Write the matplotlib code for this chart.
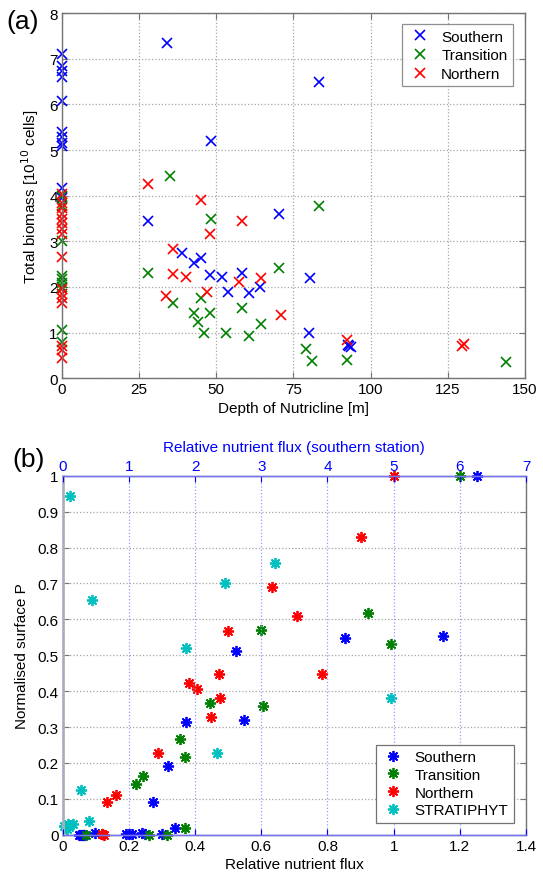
import matplotlib
matplotlib.use("Agg")
import matplotlib.pyplot as plt

plt.rcParams['font.family'] = ['Liberation Sans', 'DejaVu Sans']
plt.rcParams['font.size'] = 11

# ---------------- Panel (a) data ----------------
south_depth = [0, 0, 0, 0, 0, 0, 0, 0, 0, 0, 0,
               34.1, 48.3, 83.4, 28.0, 70.4, 39.0, 42.9, 45.0, 47.9, 51.9, 53.9,
               58.2, 60.5, 64.1, 80.3, 79.9, 92.5, 93.0, 93.5]
south_bio = [7.1, 6.85, 6.72, 6.6, 6.08, 5.4, 5.28, 5.15, 5.08, 4.17, 3.95,
             7.35, 5.19, 6.5, 3.45, 3.6, 2.74, 2.52, 2.63, 2.27, 2.21, 1.9,
             2.3, 1.86, 1.99, 2.19, 1.0, 0.74, 0.70, 0.68]

trans_depth = [0, 0, 0, 0, 0, 0, 0, 0, 0,
               35.0, 48.2, 28.0, 70.4, 36.1, 44.9, 42.9, 44.0, 47.9, 46.0, 53.0,
               60.5, 58.2, 64.4, 83.4, 78.9, 81.0, 92.3, 143.9]
trans_bio = [4.0, 3.78, 3.0, 2.25, 2.17, 2.08, 2.0, 1.05, 0.8,
             4.42, 3.5, 2.3, 2.41, 1.64, 1.75, 1.44, 1.24, 1.42, 1.0, 0.99,
             0.93, 1.53, 1.18, 3.78, 0.64, 0.37, 0.39, 0.35]

north_depth = [0, 0, 0, 0, 0, 0, 0, 0, 0, 0, 0, 0, 0, 0, 0, 0,
               28.0, 45.0, 58.3, 47.9, 36.1, 36.1, 40.2, 33.6, 46.9, 57.3, 64.4,
               70.9, 92.2, 129.5, 130.3]
north_bio = [4.03, 3.85, 3.72, 3.6, 3.5, 3.4, 3.28, 3.16, 2.65, 1.95, 1.85, 1.76, 1.65, 0.71, 0.62, 0.45,
             4.25, 3.91, 3.45, 3.15, 2.83, 2.28, 2.21, 1.81, 1.90, 2.10, 2.2,
             1.39, 0.84, 0.70, 0.76]

# ---------------- Panel (b) data ----------------
south_flux = [1.253, 0.853, 1.148, 0.524, 0.549, 0.372, 0.317, 0.274, 0.34,
              0.05, 0.055, 0.06, 0.065, 0.098, 0.19, 0.20, 0.21, 0.24, 0.25, 0.30]
south_P = [1.0, 0.547, 0.553, 0.511, 0.319, 0.315, 0.192, 0.09, 0.018,
           0, 0, 0, 0, 0.005, 0.003, 0.003, 0.003, 0.004, 0.003, 0.002]

trans_flux = [1.2, 0.924, 0.991, 0.60, 0.606, 0.444, 0.355, 0.37, 0.242, 0.222, 0.37,
              0.07, 0.12, 0.26, 0.315]
trans_P = [1.0, 0.617, 0.531, 0.571, 0.358, 0.366, 0.267, 0.217, 0.164, 0.141, 0.02,
           0, 0.002, 0, 0]

north_flux = [1.0, 0.90, 0.632, 0.708, 0.50, 0.785, 0.472, 0.382, 0.406, 0.474,
              0.448, 0.287, 0.162, 0.134, 0.12, 0.125]
north_P = [1.0, 0.83, 0.689, 0.608, 0.567, 0.449, 0.448, 0.422, 0.406, 0.381,
           0.329, 0.227, 0.111, 0.09, 0.002, 0]

strat_flux = [0.022, 0.088, 0.49, 0.64, 0.374, 0.991, 0.467, 0.055, 0.08,
              0.005, 0.01, 0.015, 0.02, 0.03, 0.012]
strat_P = [0.944, 0.654, 0.701, 0.758, 0.521, 0.381, 0.228, 0.125, 0.037,
           0.025, 0.02, 0.03, 0.022, 0.03, 0.015]

top_ticks = [0, 1, 2, 3, 4, 5, 6, 7]

C_S = (0, 0, 1)
C_T = (0, 0.5, 0)
C_N = (1, 0, 0)
C_C = (0, 0.75, 0.75)
SPINE = '0.45'
AST = (8, 2, 0)

fig = plt.figure(figsize=(5.43, 8.78), dpi=100)

# ---------------- Panel (a) ----------------
ax = fig.add_axes([0.114, 0.568, 0.853, 0.416])
kw = dict(linestyle='none', marker='x', markersize=6.5, markeredgewidth=1.2, clip_on=False)
ax.plot(south_depth, south_bio, color=C_S, label='Southern', **kw)
ax.plot(trans_depth, trans_bio, color=C_T, label='Transition', **kw)
ax.plot(north_depth, north_bio, color=C_N, label='Northern', **kw)
ax.set_xlim(0, 150)
ax.set_ylim(0, 8)
ax.set_xticks([0, 25, 50, 75, 100, 125, 150])
ax.set_yticks(range(0, 9))
ax.grid(True, color='0.65', linestyle=':', linewidth=0.9)
ax.set_axisbelow(True)
ax.tick_params(direction='in', top=True, right=True, length=4, color=SPINE, width=0.8, pad=3)
for s in ax.spines.values():
    s.set_color(SPINE)
    s.set_linewidth(1.0)
ax.set_xlabel('Depth of Nutricline [m]', labelpad=3)
ax.set_ylabel('Total biomass [10$^{10}$ cells]', labelpad=6)
leg = ax.legend(loc='upper right', fancybox=False, edgecolor=SPINE, borderpad=0.35,
                handletextpad=0.6, labelspacing=0.3, handlelength=1.6, bbox_to_anchor=(0.99, 0.99))
leg.get_frame().set_linewidth(0.9)
fig.text(0.012, 0.975, '(a)', fontsize=19, ha='left', va='center')

# ---------------- Panel (b) ----------------
bx = fig.add_axes([0.1155, 0.0482, 0.8532, 0.4088])
kw2 = dict(linestyle='none', marker=AST, markersize=8, markeredgewidth=1.3, clip_on=False)
l1, = bx.plot(south_flux, south_P, color=C_S, label='Southern', **kw2)
l2, = bx.plot(trans_flux, trans_P, color=C_T, label='Transition', **kw2)
l3, = bx.plot(north_flux, north_P, color=C_N, label='Northern', **kw2)
l4, = bx.plot(strat_flux, strat_P, color=C_C, label='STRATIPHYT', **kw2)
bx.set_xlim(0, 1.4)
bx.set_ylim(0, 1)
bx.set_xticks([0, 0.2, 0.4, 0.6, 0.8, 1.0, 1.2, 1.4])
bx.set_xticklabels(['0', '0.2', '0.4', '0.6', '0.8', '1', '1.2', '1.4'])
bx.set_yticks([i / 10 for i in range(11)])
bx.set_yticklabels(['0', '0.1', '0.2', '0.3', '0.4', '0.5', '0.6', '0.7', '0.8', '0.9', '1'])
bx.yaxis.grid(True, color='0.65', linestyle=':', linewidth=0.9)
bx.set_axisbelow(True)
bx.tick_params(direction='in', right=True, length=4, color=SPINE, width=0.8, pad=3)
for s in bx.spines.values():
    s.set_color(SPINE)
    s.set_linewidth(1.0)
bx.spines['left'].set_linewidth(2.0)
bx.spines['left'].set_color('0.7')
bx.set_xlabel('Relative nutrient flux', labelpad=3)
bx.set_ylabel('Normalised surface P', labelpad=6)

tx = bx.twiny()
tx.set_xlim(0, 7)
tx.set_xticks(top_ticks)
tx.xaxis.grid(True, color=(0.6, 0.6, 1.0), linestyle=':', linewidth=0.9)
tx.tick_params(direction='in', length=4, colors=C_S, width=0.8, pad=2, bottom=True)
for k in ['top', 'bottom']:
    tx.spines[k].set_color((0.45, 0.45, 1.0))
    tx.spines[k].set_linewidth(1.0)
tx.spines['left'].set_visible(False)
tx.spines['right'].set_visible(False)
tx.set_xlabel('Relative nutrient flux (southern station)', color=C_S, labelpad=6)
leg2 = tx.legend(handles=[l1, l2, l3, l4], loc='lower right', fancybox=False, edgecolor=SPINE,
                 borderpad=0.35, handletextpad=0.6, labelspacing=0.25, handlelength=1.6,
                 bbox_to_anchor=(0.99, 0.012), framealpha=1)
leg2.get_frame().set_linewidth(0.9)
fig.text(0.022, 0.476, '(b)', fontsize=19, ha='left', va='center')

fig.savefig('out.png', dpi=100)
